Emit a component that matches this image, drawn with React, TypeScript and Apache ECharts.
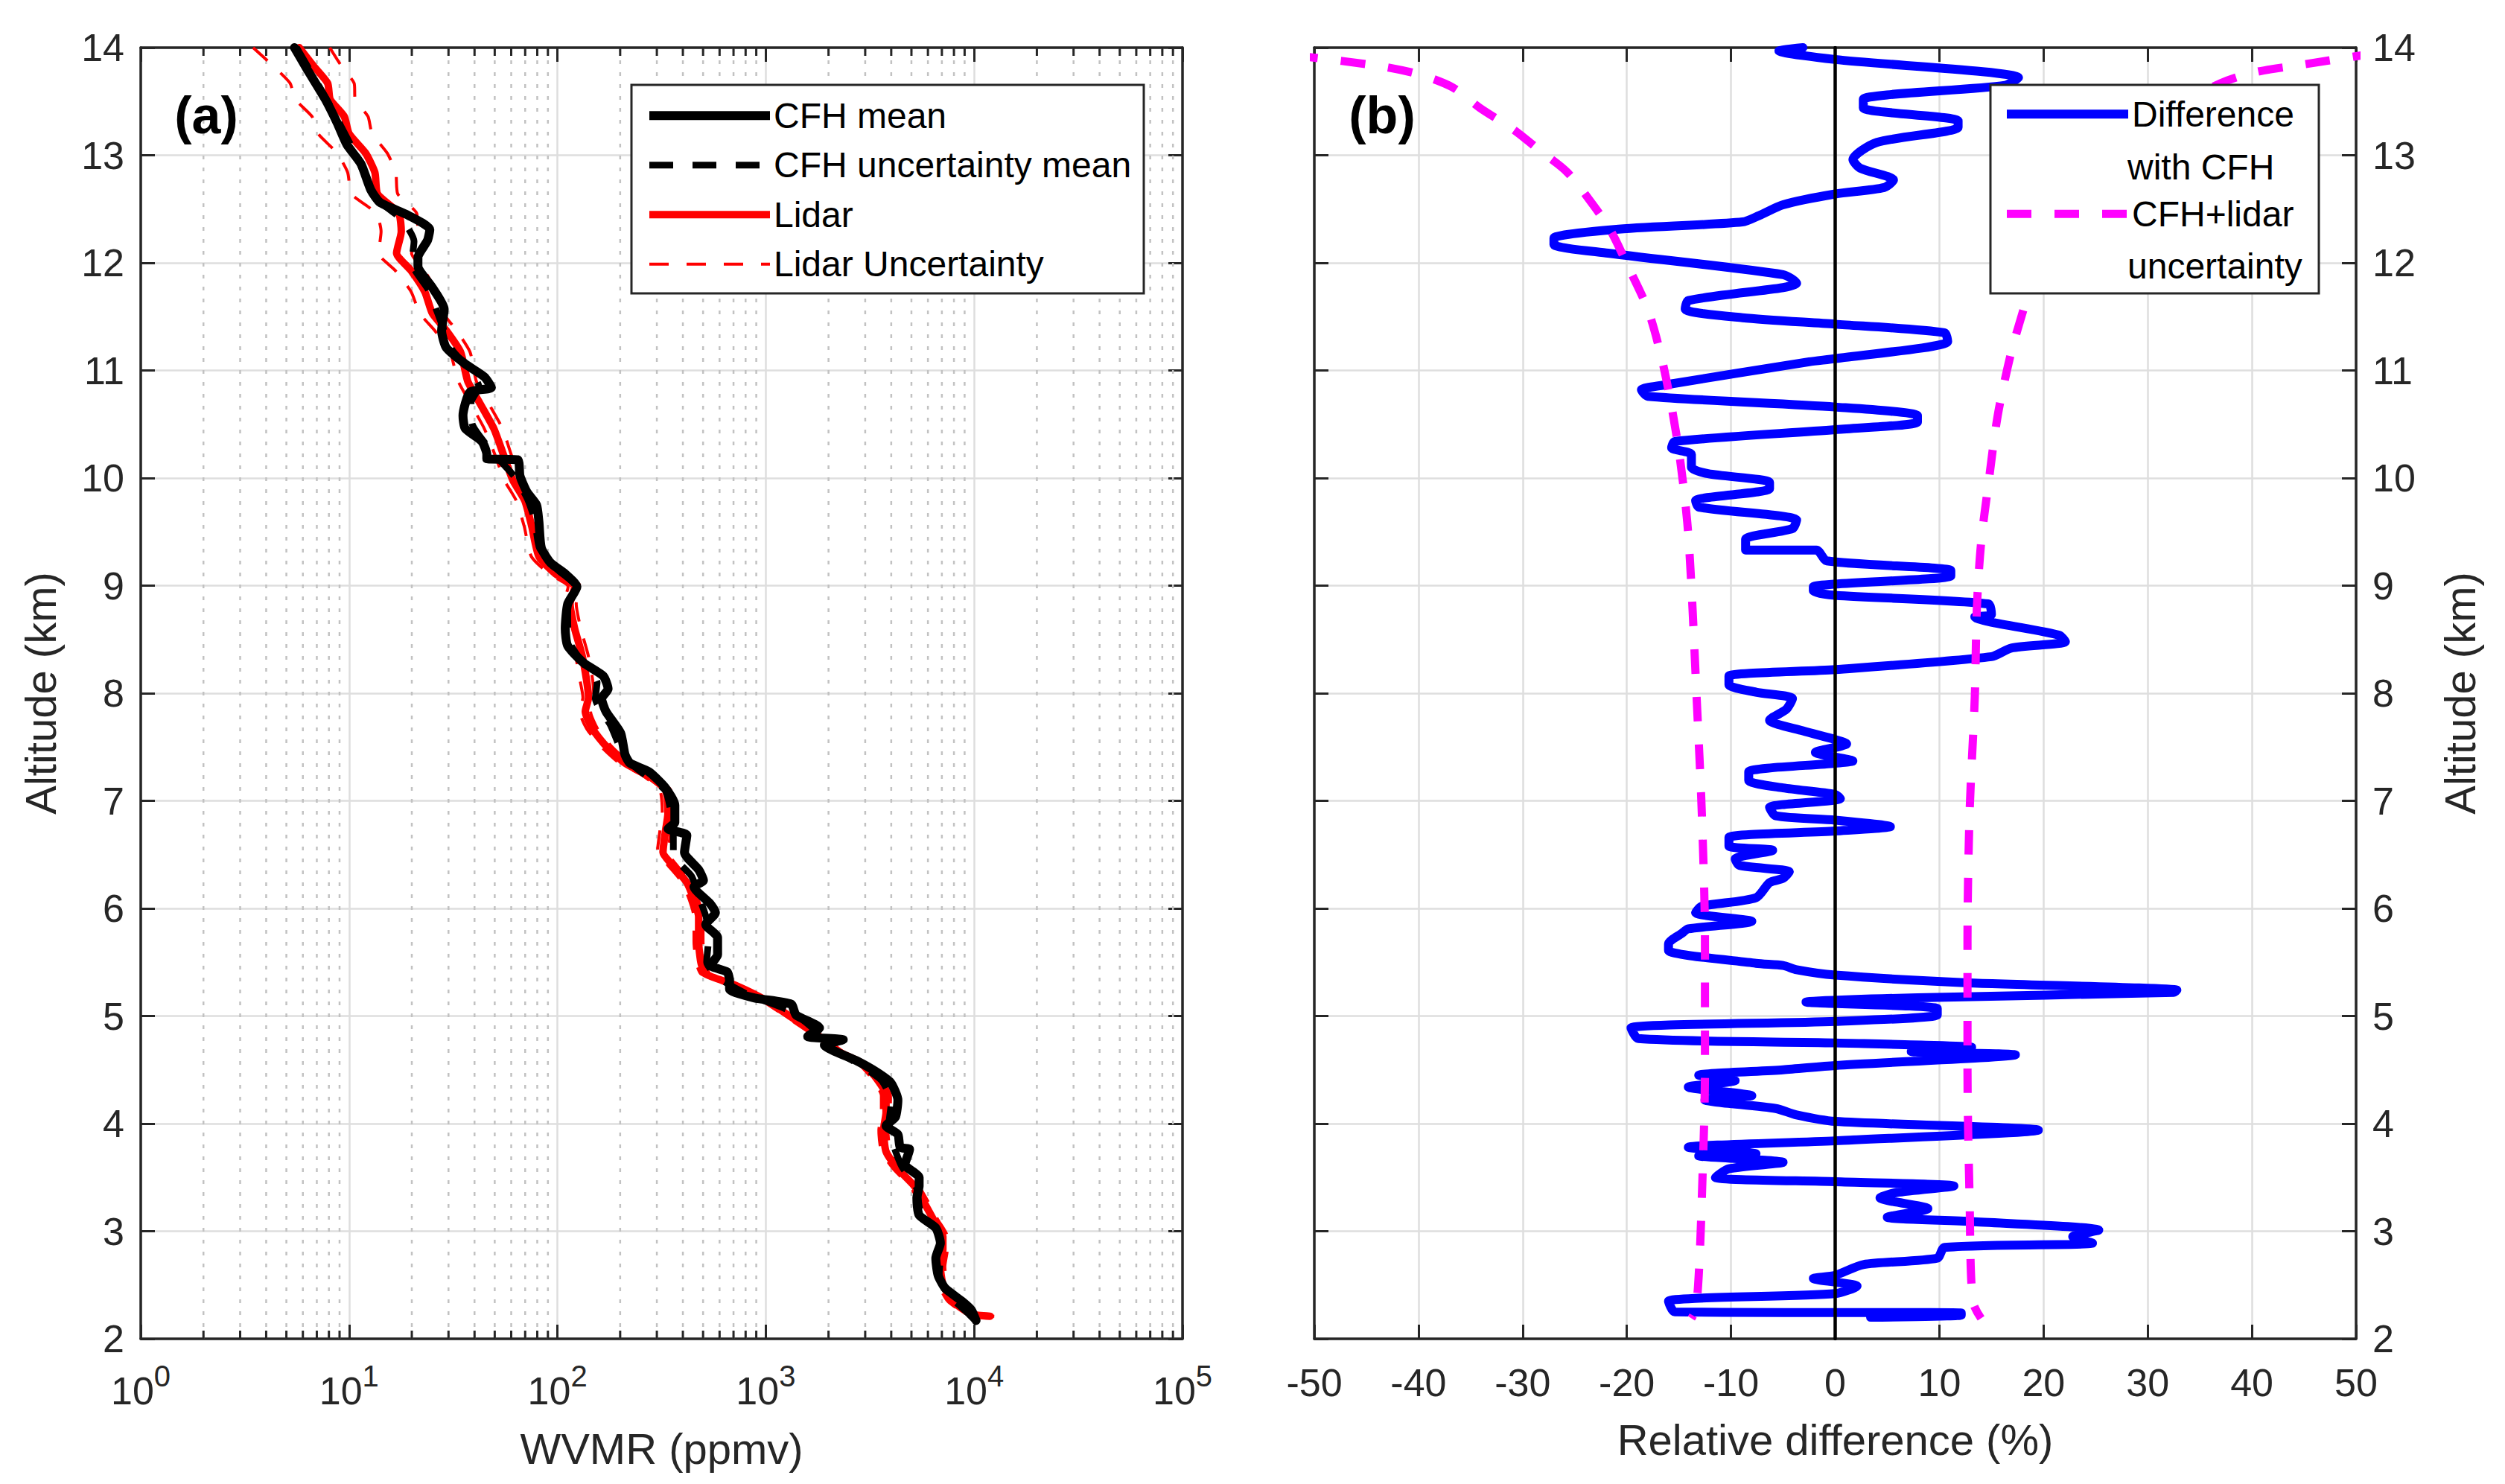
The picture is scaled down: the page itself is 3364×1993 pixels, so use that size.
import React, { useEffect, useRef } from 'react';
import * as echarts from 'echarts';

// panel (a): water vapour mixing ratio profiles, ppmv vs altitude (km)
const cfhAlt = [14.0, 13.81, 13.52, 13.3, 13.1, 12.92, 12.68, 12.56, 12.44, 12.31, 12.21, 12.05, 11.97, 11.77, 11.57, 11.37, 11.21, 11.06, 10.94, 10.84, 10.8, 10.58, 10.46, 10.34, 10.22, 10.18, 10.17, 10.02, 9.87, 9.75, 9.59, 9.35, 9.21, 9.11, 8.99, 8.83, 8.6, 8.44, 8.28, 8.16, 8.04, 7.95, 7.83, 7.63, 7.43, 7.35, 7.27, 7.12, 6.96, 6.8, 6.74, 6.68, 6.52, 6.36, 6.26, 6.2, 6.04, 5.96, 5.85, 5.73, 5.57, 5.47, 5.41, 5.33, 5.25, 5.17, 5.11, 5.01, 4.89, 4.81, 4.78, 4.73, 4.58, 4.48, 4.38, 4.22, 4.06, 3.98, 3.9, 3.78, 3.76, 3.62, 3.5, 3.42, 3.31, 3.15, 3.03, 2.89, 2.75, 2.59, 2.47, 2.35, 2.27, 2.17];
const cfhWvmr = [5.47, 6.24, 7.69, 8.77, 9.75, 11.4, 12.7, 14.1, 19.3, 24.4, 23.8, 21.4, 21.4, 25.1, 28.6, 27.8, 29.3, 36.1, 44.6, 48.2, 38.1, 35.2, 36.1, 43.4, 45.8, 45.8, 64.4, 66.1, 71.4, 79.4, 81.5, 83.7, 92.9, 109, 124, 112, 109, 112, 134, 166, 175, 163, 171, 201, 211, 223, 275, 330, 366, 366, 339, 418, 407, 476, 502, 452, 543, 573, 515, 587, 587, 543, 652, 670, 670, 871, 1324, 1396, 1811, 1589, 2355, 1910, 2754, 3396, 3981, 4305, 4188, 3776, 4305, 4416, 4898, 4656, 5445, 5445, 5309, 5445, 6546, 6887, 6546, 6714, 7261, 8730, 9683, 10210];

const cfhUncAlt = [14.0, 13.5, 13.0, 12.6, 12.4, 12.2, 12.0, 11.75, 11.5, 11.2, 11.0, 10.85, 10.7, 10.5, 10.3, 10.18, 10.0, 9.8, 9.6, 9.35, 9.15, 9.0, 8.8, 8.5, 8.3, 8.1, 7.95, 7.7, 7.45, 7.3, 7.1, 6.9, 6.7, 6.5, 6.3, 6.1, 5.9, 5.7, 5.5, 5.35, 5.2, 5.05, 4.9, 4.75, 4.55, 4.4, 4.2, 4.0, 3.8, 3.6, 3.4, 3.2, 3.0, 2.8, 2.6, 2.4, 2.25, 2.18];
const cfhUncWvmr = [5.6, 7.9, 10.8, 13.5, 18.0, 20.5, 20.0, 24.0, 27.0, 31.0, 38.0, 42.0, 38.5, 39.0, 46.0, 52.0, 63.0, 72.0, 78.0, 82.0, 100, 121, 112, 113, 130, 155, 152, 180, 205, 240, 328, 350, 360, 360, 440, 480, 520, 530, 520, 600, 820, 1300, 1650, 1900, 2800, 3600, 4000, 3900, 4100, 4500, 5300, 5500, 6700, 6900, 6800, 7600, 9200, 10000];

const lidarAlt = [14.0, 13.83, 13.67, 13.52, 13.36, 13.2, 13.02, 12.84, 12.64, 12.46, 12.29, 12.09, 11.93, 11.73, 11.53, 11.37, 11.17, 10.9, 10.7, 10.46, 10.22, 9.98, 9.79, 9.55, 9.27, 9.11, 8.99, 8.83, 8.6, 8.36, 8.12, 7.96, 7.83, 7.67, 7.51, 7.35, 7.23, 7.1, 6.88, 6.72, 6.52, 6.4, 6.24, 6.08, 5.92, 5.69, 5.49, 5.39, 5.29, 5.15, 4.99, 4.81, 4.67, 4.56, 4.42, 4.26, 4.1, 3.94, 3.74, 3.58, 3.42, 3.27, 3.11, 2.95, 2.83, 2.67, 2.51, 2.35, 2.23, 2.21];
const lidarWvmr = [5.77, 6.75, 7.89, 8.11, 9.48, 10.0, 12.0, 13.3, 13.7, 17.3, 17.8, 16.9, 19.8, 23.1, 25.1, 29.3, 34.3, 37.1, 42.3, 49.5, 55.0, 61.1, 69.7, 75.3, 81.5, 97.9, 121, 115, 121, 131, 138, 141, 136, 147, 171, 211, 275, 330, 339, 330, 321, 357, 418, 452, 476, 476, 489, 515, 706, 993, 1324, 1811, 2234, 2904, 3396, 3776, 3776, 3673, 3776, 4305, 5164, 5741, 6368, 7079, 7079, 6887, 7079, 7852, 9683, 11940];
// lidar uncertainty, % of the lidar value
const lidarUncPct = [40, 36, 34, 32, 30, 29, 27, 26, 25, 22, 20, 18, 16, 14, 13, 12, 11, 10, 10, 10, 9, 9, 9, 8, 8, 7, 7, 7, 7, 7, 7, 6, 6, 6, 6, 6, 6, 6, 6, 6, 6, 5, 5, 5, 5, 5, 5, 5, 5, 5, 5, 5, 5, 5, 5, 5, 5, 5, 5, 5, 5, 5, 5, 5, 5, 5, 5, 5, 5, 5];

// log axis minor grid positions
const minorTicks = [2, 3, 4, 5, 6, 7, 8, 9, 20, 30, 40, 50, 60, 70, 80, 90, 200, 300, 400, 500, 600, 700, 800, 900, 2000, 3000, 4000, 5000, 6000, 7000, 8000, 9000, 20000, 30000, 40000, 50000, 60000, 70000, 80000, 90000];

// panel (b): relative difference (%) vs altitude (km)
const diffPct = [-3.1, -5.4, 0, 17.6, 16.3, 2.7, 2.7, 11.8, 11.8, 4.0, 1.7, 2.4, 5.6, 4.7, 0, -5.0, -7.3, -8.9, -21.2, -27.0, -27.0, -21.8, -5.0, -3.7, -5.0, -14.1, -14.4, -8.9, 0, 10.5, 10.8, 0, -2.5, -16.7, -18.6, -18.0, 0, 7.9, 7.9, 0, -15.4, -15.7, -13.8, -13.8, -12.2, -6.3, -6.3, -13.4, -13.1, -3.7, -4.1, -8.6, -8.6, -1.8, -0.8, 11.1, 11.1, -2.1, -2.1, 0, 14.7, 15.0, 13.4, 21.5, 22.1, 16.9, 15.0, 0, -10.2, -10.2, -7.6, -4.1, -4.7, -6.3, -3.1, 0, 1.1, -1.9, 1.7, 0, -8.3, -8.3, -5.0, 0, 0.5, -6.3, -5.7, 0, 5.3, 0, -10.2, -10.2, -6.0, -9.6, -9.2, -4.4, -5.0, -6.3, -7.6, -12.8, -13.4, -8.0, -14.1, -14.7, -16.0, -16.0, -7.6, -5.0, -3.7, 0, 12.4, 32.8, 32.5, 7.9, -2.8, 9.8, 9.8, 0, -19.6, -18.9, 0, 13.1, 7.3, 17.3, 0, -5.0, -13.1, -9.6, -14.1, -8.0, -12.5, -5.7, -3.7, 0, 19.5, 0, -14.1, -7.6, -13.1, -5.0, -10.2, -11.5, 0, 11.4, 5.9, 4.3, 8.9, 5.0, 13.1, 25.3, 22.8, 24.7, 10.5, 9.8, 2.7, 0, -2.1, 2.1, 0, -16.0, -15.4, 12.1, 12.1, 3.4];
const diffAlt = [14.0, 13.97, 13.89, 13.72, 13.65, 13.52, 13.44, 13.32, 13.26, 13.12, 12.96, 12.88, 12.77, 12.7, 12.64, 12.54, 12.44, 12.38, 12.31, 12.23, 12.17, 12.09, 11.89, 11.81, 11.77, 11.65, 11.57, 11.49, 11.43, 11.35, 11.27, 11.11, 11.08, 10.86, 10.82, 10.76, 10.66, 10.58, 10.52, 10.45, 10.34, 10.28, 10.22, 10.1, 10.04, 9.96, 9.9, 9.79, 9.73, 9.61, 9.53, 9.43, 9.33, 9.33, 9.23, 9.14, 9.09, 8.99, 8.95, 8.91, 8.83, 8.73, 8.71, 8.54, 8.48, 8.42, 8.34, 8.22, 8.16, 8.08, 8.01, 7.95, 7.85, 7.75, 7.65, 7.57, 7.53, 7.45, 7.37, 7.35, 7.27, 7.19, 7.12, 7.06, 7.02, 6.94, 6.86, 6.82, 6.76, 6.72, 6.66, 6.58, 6.54, 6.46, 6.4, 6.34, 6.28, 6.24, 6.1, 6.02, 5.96, 5.88, 5.81, 5.77, 5.67, 5.61, 5.49, 5.47, 5.43, 5.38, 5.31, 5.24, 5.22, 5.17, 5.13, 5.07, 5.01, 4.95, 4.89, 4.79, 4.75, 4.71, 4.67, 4.64, 4.54, 4.5, 4.45, 4.4, 4.34, 4.26, 4.22, 4.14, 4.08, 4.02, 3.94, 3.84, 3.78, 3.72, 3.7, 3.64, 3.58, 3.5, 3.46, 3.42, 3.36, 3.31, 3.21, 3.13, 3.09, 3.01, 2.95, 2.89, 2.85, 2.75, 2.69, 2.59, 2.56, 2.49, 2.42, 2.35, 2.25, 2.24, 2.22, 2.2];

const uncLeftPct = [-52, -43.8, -39.9, -36.7, -34.1, -30.9, -28.3, -25.7, -23.1, -21.5, -19.9, -18.0, -16.7, -15.7, -14.9, -14.2, -13.8, -13.3, -12.8, -12.5, -12.5, -12.8, -13.1, -13.4, -13.8];
const uncLeftAlt = [13.93, 13.83, 13.75, 13.63, 13.44, 13.24, 13.04, 12.84, 12.52, 12.29, 11.97, 11.57, 11.13, 10.66, 10.18, 9.59, 8.99, 7.96, 6.88, 5.69, 4.5, 3.31, 2.59, 2.27, 2.19];
const uncRightPct = [52, 44.7, 40.2, 37.0, 33.0, 28.5, 25.0, 22.5, 20.8, 19.5, 18.2, 16.9, 15.6, 14.7, 14.0, 13.6, 13.4, 12.9, 12.7, 12.7, 12.9, 13.2, 14.0];
const uncRightAlt = [13.95, 13.84, 13.77, 13.67, 13.46, 13.2, 12.95, 12.7, 12.4, 12.1, 11.61, 11.17, 10.58, 9.94, 9.39, 8.79, 7.96, 6.88, 5.69, 4.5, 3.31, 2.35, 2.19];

const zeroPct = [0, 0];
const zeroAlt = [2, 14];

const FONT = '"Liberation Sans", Arial, Helvetica, sans-serif';
const TXT = '#262626';
const GRID = '#dedede';
const MINOR = '#c2c2c2';

const pairs = (xs: number[], ys: number[]) => xs.map((x, i) => [x, ys[i]]);

const lineSeries = (
  name: string,
  data: number[][],
  color: string,
  width: number,
  dash: number[] | 'solid',
  xi: number,
  z: number,
  smooth = 0,
) => ({
  name,
  type: 'line',
  data,
  xAxisIndex: xi,
  yAxisIndex: xi,
  symbol: 'none',
  showSymbol: false,
  silent: true,
  smooth,
  z,
  color,
  lineStyle: {
    color,
    width,
    type: dash,
    cap: dash === 'solid' ? 'round' : 'butt',
    join: 'round',
  },
});

const axisBase = {
  axisLine: { show: true, onZero: false, lineStyle: { color: TXT, width: 3.5 } },
  axisTick: { show: true, inside: true, length: 19, lineStyle: { color: TXT, width: 3 } },
};
const tickFont = { fontSize: 52, color: TXT, fontFamily: FONT };
const nameFont = { fontSize: 58, lineHeight: 58, color: TXT, fontFamily: FONT };
const legendText = { fontSize: 48, lineHeight: 66.5, color: '#000', fontFamily: FONT };

const App: React.FC = () => {
  const chartRef = useRef<HTMLDivElement>(null);

  useEffect(() => {
    const chart = echarts.init(chartRef.current as HTMLDivElement, null, { renderer: 'svg' });

    const lidarLower = lidarAlt.map((a, i) => [lidarWvmr[i] * (1 - lidarUncPct[i] / 100), a]);
    const lidarUpper = lidarAlt.map((a, i) => [lidarWvmr[i] * (1 + lidarUncPct[i] / 100), a]);

    const option: any = {
      animation: false,
      backgroundColor: '#fff',
      textStyle: { fontFamily: FONT },
      grid: [
        { left: 189, top: 64, width: 1399, height: 1734 },
        { left: 1765, top: 64, width: 1399, height: 1734 },
      ],
      xAxis: [
        {
          ...axisBase,
          type: 'log',
          logBase: 10,
          gridIndex: 0,
          min: 1,
          max: 100000,
          position: 'bottom',
          splitLine: { show: true, lineStyle: { color: GRID, width: 2.5 } },
          axisLabel: {
            margin: 30,
            formatter: (v: number) => `{b|10}{s|${Math.round(Math.log10(v))}}`,
            rich: {
              b: { ...tickFont, lineHeight: 80 },
              s: { fontSize: 40, lineHeight: 40, color: TXT, fontFamily: FONT, verticalAlign: 'top' },
            },
          },
          name: 'WVMR (ppmv)',
          nameLocation: 'middle',
          nameGap: 118,
          nameTextStyle: nameFont,
        },
        {
          ...axisBase,
          type: 'log',
          logBase: 10,
          gridIndex: 0,
          min: 1,
          max: 100000,
          position: 'top',
          splitLine: { show: false },
          axisLabel: { show: false },
        },
        {
          ...axisBase,
          type: 'value',
          gridIndex: 1,
          min: -50,
          max: 50,
          interval: 10,
          position: 'bottom',
          splitLine: { show: true, lineStyle: { color: GRID, width: 2.5 } },
          axisLabel: { ...tickFont, margin: 33 },
          name: 'Relative difference (%)',
          nameLocation: 'middle',
          nameGap: 106,
          nameTextStyle: nameFont,
        },
        {
          ...axisBase,
          type: 'value',
          gridIndex: 1,
          min: -50,
          max: 50,
          interval: 10,
          position: 'top',
          splitLine: { show: false },
          axisLabel: { show: false },
        },
      ],
      yAxis: [
        {
          ...axisBase,
          type: 'value',
          gridIndex: 0,
          min: 2,
          max: 14,
          interval: 1,
          position: 'left',
          splitLine: { show: true, lineStyle: { color: GRID, width: 2.5 } },
          axisLabel: { ...tickFont, margin: 22 },
          name: 'Altitude (km)',
          nameLocation: 'middle',
          nameGap: 106,
          nameRotate: 90,
          nameTextStyle: nameFont,
        },
        {
          ...axisBase,
          type: 'value',
          gridIndex: 0,
          min: 2,
          max: 14,
          interval: 1,
          position: 'right',
          splitLine: { show: false },
          axisLabel: { show: false },
        },
        {
          ...axisBase,
          type: 'value',
          gridIndex: 1,
          min: 2,
          max: 14,
          interval: 1,
          position: 'left',
          splitLine: { show: true, lineStyle: { color: GRID, width: 2.5 } },
          axisLabel: { show: false },
        },
        {
          ...axisBase,
          type: 'value',
          gridIndex: 1,
          min: 2,
          max: 14,
          interval: 1,
          position: 'right',
          splitLine: { show: false },
          axisLabel: { ...tickFont, margin: 22 },
          name: 'Altitude (km)',
          nameLocation: 'middle',
          nameGap: 110,
          nameRotate: 90,
          nameTextStyle: nameFont,
        },
      ],
      legend: [
        {
          data: ['CFH mean', 'CFH uncertainty mean', 'Lidar', 'Lidar Uncertainty'],
          orient: 'vertical',
          left: 866,
          top: 122,
          padding: 0,
          itemGap: 0,
          itemWidth: 162,
          itemHeight: 14,
          selectedMode: false,
          z: 11,
          itemStyle: { opacity: 0 },
          lineStyle: { width: 'inherit', cap: 'butt' },
          textStyle: legendText,
        },
        {
          data: ['Difference with CFH', 'CFH+lidar uncertainty'],
          orient: 'vertical',
          left: 2689,
          top: 120,
          padding: 0,
          itemGap: 67.5,
          itemWidth: 163,
          itemHeight: 14,
          selectedMode: false,
          z: 11,
          itemStyle: { opacity: 0 },
          lineStyle: { width: 'inherit', cap: 'butt' },
          formatter: (name: string) => (name === 'Difference with CFH' ? 'Difference' : 'CFH+lidar'),
          textStyle: legendText,
        },
      ],
      graphic: [
        {
          type: 'rect',
          z: 10,
          shape: { x: 848, y: 114, width: 688, height: 280 },
          style: { fill: '#fff', stroke: TXT, lineWidth: 3 },
        },
        {
          type: 'rect',
          z: 10,
          shape: { x: 2673, y: 114, width: 441, height: 280 },
          style: { fill: '#fff', stroke: TXT, lineWidth: 3 },
        },
        {
          type: 'text',
          z: 12,
          x: 2857,
          y: 224,
          style: { text: 'with CFH', fontSize: 48, fontFamily: FONT, fill: '#000', align: 'left', verticalAlign: 'middle' },
        },
        {
          type: 'text',
          z: 12,
          x: 2857,
          y: 357,
          style: { text: 'uncertainty', fontSize: 48, fontFamily: FONT, fill: '#000', align: 'left', verticalAlign: 'middle' },
        },
        {
          type: 'text',
          z: 11,
          x: 277,
          y: 155,
          style: {
            text: '(a)',
            fontSize: 70,
            fontWeight: 'bold',
            fontFamily: FONT,
            fill: '#000',
            align: 'center',
            verticalAlign: 'middle',
          },
        },
        {
          type: 'text',
          z: 11,
          x: 1856,
          y: 155,
          style: {
            text: '(b)',
            fontSize: 70,
            fontWeight: 'bold',
            fontFamily: FONT,
            fill: '#000',
            align: 'center',
            verticalAlign: 'middle',
          },
        },
      ],
      series: [
        {
          type: 'custom',
          xAxisIndex: 0,
          yAxisIndex: 0,
          silent: true,
          z: 1,
          data: minorTicks.map((v) => [v, 2]),
          renderItem: (_params: any, api: any) => {
            const v = api.value(0);
            const lo = api.coord([v, 2]);
            const hi = api.coord([v, 14]);
            return {
              type: 'group',
              children: [
                {
                  type: 'line',
                  shape: { x1: lo[0], y1: lo[1], x2: hi[0], y2: hi[1] },
                  style: { stroke: MINOR, lineWidth: 2.5, lineDash: [5, 11] },
                },
                {
                  type: 'line',
                  shape: { x1: lo[0], y1: lo[1], x2: lo[0], y2: lo[1] - 11 },
                  style: { stroke: TXT, lineWidth: 3 },
                },
                {
                  type: 'line',
                  shape: { x1: hi[0], y1: hi[1], x2: hi[0], y2: hi[1] + 11 },
                  style: { stroke: TXT, lineWidth: 3 },
                },
              ],
            };
          },
        },
        lineSeries('Lidar Uncertainty', lidarLower, '#ff0000', 4, [26, 24], 0, 2, 0.2),
        lineSeries('Lidar Uncertainty', lidarUpper, '#ff0000', 4, [26, 24], 0, 2, 0.2),
        lineSeries('Lidar', pairs(lidarWvmr, lidarAlt), '#ff0000', 10, 'solid', 0, 3, 0.2),
        lineSeries('CFH mean', pairs(cfhWvmr, cfhAlt), '#000000', 12, 'solid', 0, 4, 0.2),
        lineSeries('CFH uncertainty mean', pairs(cfhUncWvmr, cfhUncAlt), '#000000', 9, [32, 26], 0, 5, 0.2),
        lineSeries('Difference with CFH', pairs(diffPct, diffAlt), '#0000ff', 12, 'solid', 2, 2, 0.25),
        lineSeries('CFH+lidar uncertainty', pairs(uncLeftPct, uncLeftAlt), '#ff00ff', 11, [33, 31], 2, 3, 0.3),
        lineSeries('CFH+lidar uncertainty', pairs(uncRightPct, uncRightAlt), '#ff00ff', 11, [33, 31], 2, 3, 0.3),
        lineSeries('zero', pairs(zeroPct, zeroAlt), '#000000', 4.5, 'solid', 2, 4),
      ],
    };

    chart.setOption(option);
    return () => {
      chart.dispose();
    };
  }, []);

  return (
    <div
      ref={chartRef}
      style={{ position: 'absolute', left: 0, top: 0, width: 3364, height: 1993, background: '#fff' }}
    />
  );
};

export default App;
